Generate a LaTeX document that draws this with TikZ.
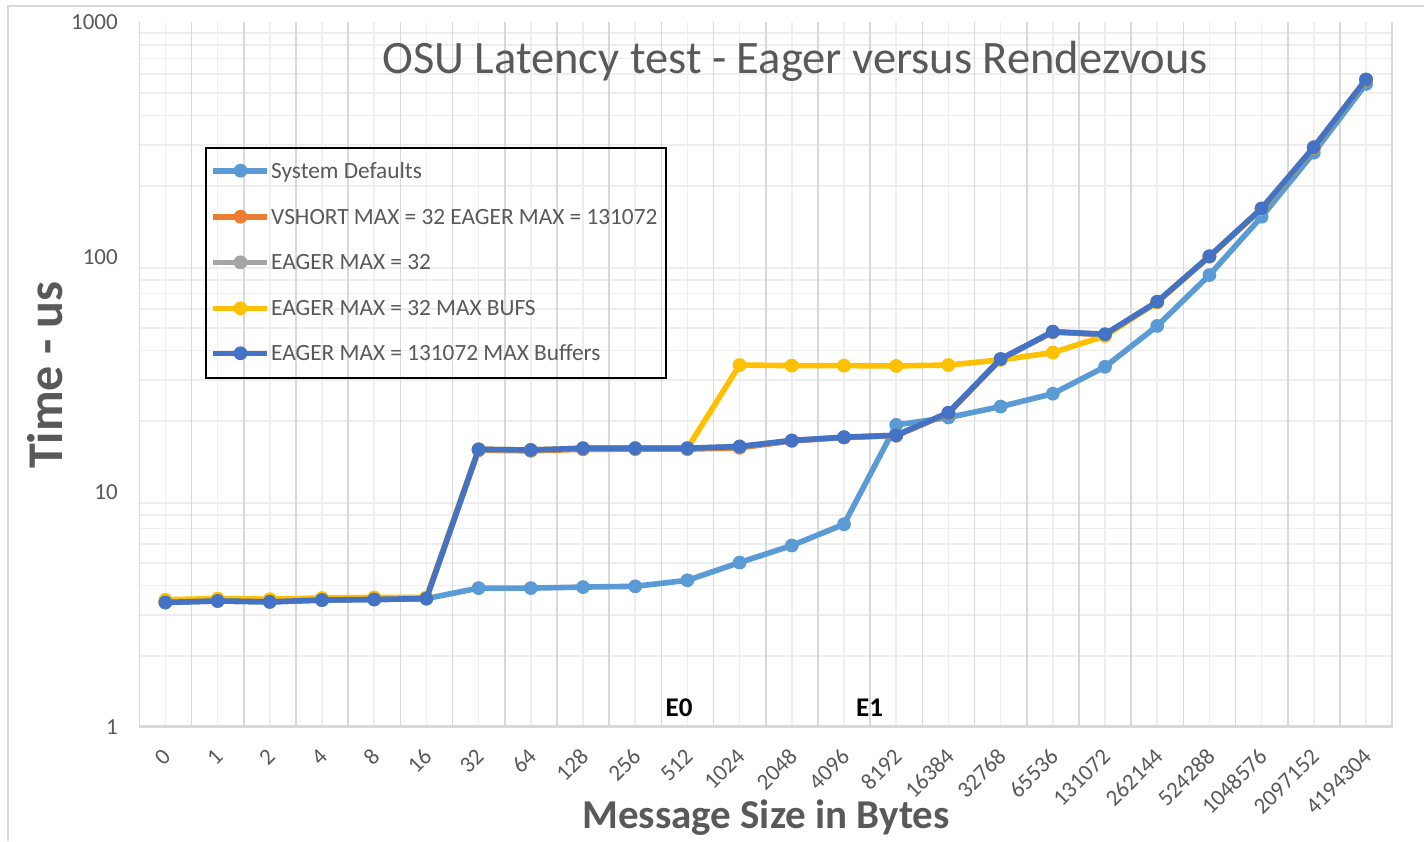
\documentclass[tikz,border=0pt]{standalone}
\usepackage{fontspec}
\setmainfont{Carlito}
\definecolor{txt}{HTML}{595959}
\definecolor{gmaj}{HTML}{D9D9D9}
\definecolor{gmin}{HTML}{EEEEEE}
\definecolor{sdef}{HTML}{5B9BD5}
\definecolor{vsh}{HTML}{ED7D31}
\definecolor{etwo}{HTML}{A5A5A5}
\definecolor{ebuf}{HTML}{FFC000}
\definecolor{ebig}{HTML}{4472C4}

% category centre and log-scale position (1 at y=727, 235 units per decade)
\newcommand\cx[1]{165.4+52.2*#1}
\newcommand\ly[1]{727-102.06*ln(#1)}

% one data series: polyline through (#1 0)..(#1 23), then its markers
\newcommand\drawseries[2]{%
  \draw[serline,#2] (#10) \foreach \i in {1,...,23}{ -- (#1\i)};
  \foreach \i in {0,...,23}{\fill[#2] (#1\i) circle[radius=6.9];}
}
% one data series stored as named coordinates
\newcommand\setseries[2]{%
  \foreach \v [count=\i from 0] in {#2}{\coordinate (#1\i) at ({\cx{\i}},{\ly{\v}});}
}

\begin{document}
\begin{tikzpicture}[x=1pt,y=-1pt,
  serline/.style={line width=5.6pt,line join=round,line cap=round},
  ticklab/.style={text=txt,font=\fontsize{23}{27}\selectfont,inner sep=0pt},
  legtext/.style={text=txt,font=\fontsize{23.3}{27}\selectfont,inner sep=0pt,anchor=base west},
  marklab/.style={text=black,font=\bfseries\fontsize{27}{32}\selectfont,inner sep=0pt,anchor=base}]

\useasboundingbox (0,0) rectangle (1424,841);
\fill[white] (0,0) rectangle (1424,841);

% chart frame (left and top edges)
\draw[gmaj,line width=2pt] (8,841) -- (8,6) -- (1424,6);

% minor horizontal gridlines at 2..9 of every decade
\foreach \d in {1,10,100}{
  \foreach \m in {2,...,9}{
    \draw[gmin,line width=1.6pt] (139.3,{\ly{\d*\m}}) -- (1392.5,{\ly{\d*\m}});
  }
}
% vertical gridlines: minor at category centres, major at boundaries
\foreach \k in {0,...,23}{\draw[gmin,line width=1.6pt] ({\cx{\k}},22) -- ({\cx{\k}},727);}
\foreach \k in {0,...,24}{\draw[gmaj,line width=1.6pt] ({139.3+52.2*\k},22) -- ({139.3+52.2*\k},727);}
% category axis
\draw[gmaj,line width=2.6pt] (139.3,726.5) -- (1392.5,726.5);

% value axis labels
\foreach \v/\y in {1000/22,100/257,10/492,1/727}{
  \node[ticklab,anchor=base east] (yl\v) at (118,\y+7.4) {\v};
}
% category labels
\foreach \t [count=\i from 0] in {0,1,2,4,8,16,32,64,128,256,512,1024,2048,4096,8192,16384,32768,65536,131072,262144,524288,1048576,2097152,4194304}{
  \node[ticklab,rotate=45,anchor=east] (xl\i) at ({\cx{\i}+1.5},752.5) {\t};
}

% data
\setseries{sd}{3.39,3.44,3.41,3.47,3.49,3.52,3.90,3.90,3.94,3.97,4.21,5.01,5.92,7.29,19.3,20.75,23.1,26.2,34.1,50.9,83.8,148.4,278,545}
\setseries{vs}{3.42,3.47,3.44,3.50,3.52,3.54,15.06,14.97,15.2,15.22,15.22,15.42,16.5,17.05,17.35,21.6,36.7,47.9,46.7,64.4,100.4,160.4,292,568}
\setseries{et}{3.39,3.44,3.41,3.47,3.49,3.52,15.19,15.09,15.35,15.35,15.35,15.62,16.56,17.11,17.43,21.75,36.8,48.1,46.9,64.5,100.7,160.8,293,569}
\setseries{eb}{3.48,3.52,3.50,3.54,3.56,3.56,15.19,15.09,15.35,15.35,15.35,34.7,34.5,34.5,34.4,34.7,36.5,39.2,46.1,64.2,100.3,160.2,292,568}
\setseries{eg}{3.39,3.44,3.41,3.47,3.49,3.52,15.19,15.09,15.35,15.35,15.35,15.62,16.56,17.11,17.43,21.75,36.8,48.1,46.9,64.5,100.7,160.8,293,569}

\drawseries{sd}{sdef}
\drawseries{vs}{vsh}
\drawseries{et}{etwo}
\drawseries{eb}{ebuf}
\drawseries{eg}{ebig}

% title and axis titles
\node[text=txt,font=\fontsize{46.5}{54}\selectfont,inner sep=0pt,anchor=base] (title) at (795,73) {OSU Latency test - Eager versus Rendezvous};
\node[text=txt,font=\bfseries\fontsize{41}{48}\selectfont,inner sep=0pt,anchor=base] (xtitle) at (766,828) {Message Size in Bytes};
\node[text=txt,font=\bfseries\fontsize{50}{58}\selectfont,inner sep=0pt,anchor=base,rotate=90] (ytitle) at (62,375) {Time - us};

% threshold marks
\node[marklab] (e0) at (679,716) {E0};
\node[marklab] (e1) at (869.5,716) {E1};

% legend
\node[draw=black,line width=2pt,minimum width=460pt,minimum height=230pt,inner sep=0pt] (legend) at (436,263) {};
\foreach \c/\y/\t in {sdef/170.7/System Defaults,
                      vsh/216.7/VSHORT MAX = 32 EAGER MAX = 131072,
                      etwo/262.3/EAGER MAX = 32,
                      ebuf/308.3/EAGER MAX = 32 MAX BUFS,
                      ebig/353.3/EAGER MAX = 131072 MAX Buffers}{
  \coordinate (la\c) at (213,\y);
  \coordinate (lb\c) at (267,\y);
  \draw[serline,\c,line cap=butt] (la\c) -- (lb\c);
  \fill[\c] (240.5,\y) circle[radius=6.9];
  \node[legtext] (lt\c) at (271,\y+7.5) {\t};
}
\end{tikzpicture}
\end{document}
